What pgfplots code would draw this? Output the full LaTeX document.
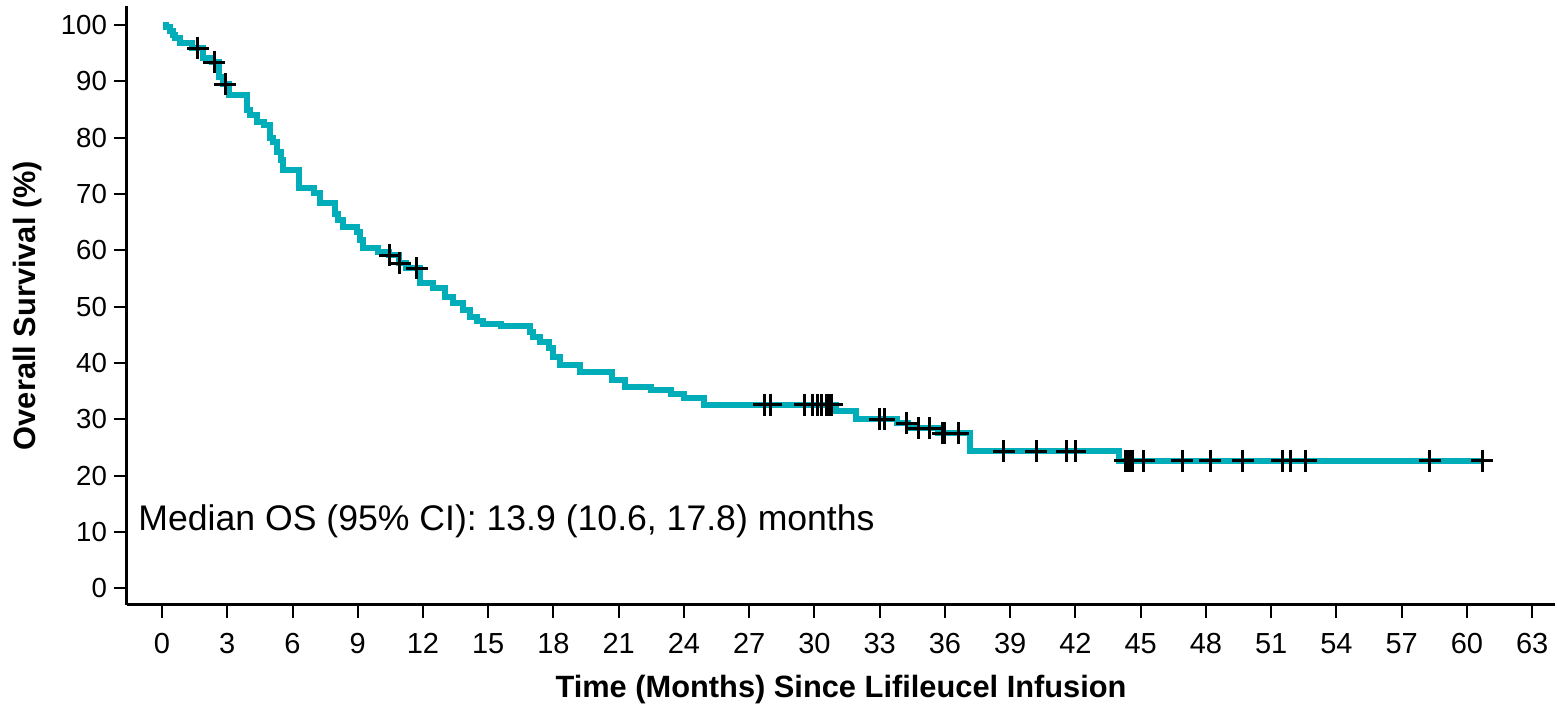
\documentclass[border=0pt]{standalone}
\usepackage{fontspec}
\setmainfont{Liberation Sans}
\usepackage{pgfplots}
\pgfplotsset{compat=1.18}
\definecolor{kmteal}{RGB}{0,173,185}

\begin{document}
\begin{tikzpicture}
\useasboundingbox (-63.5pt,-53pt) rectangle (715pt,302.5pt);
\begin{axis}[
  scale only axis,
  width=714pt, height=299.5pt,
  xmin=-1.61, xmax=64.05,
  ymin=-3, ymax=103.4,
  axis lines*=left,
  axis line style={-, line width=1.5pt, black},
  xtick={0,3,...,63},
  ytick={0,10,...,100},
  tick align=outside,
  tick pos=left,
  major tick length=6.5pt,
  tick style={line width=1pt, black},
  /pgf/number format/assume math mode=true,
  xticklabel style={font=\fontsize{14.5}{16}\selectfont, yshift=-4pt},
  yticklabel style={font=\fontsize{13.8}{16}\selectfont},
  xlabel={Time (Months) Since Lifileucel Infusion},
  ylabel={Overall Survival (\%)},
  xlabel style={font=\bfseries\fontsize{15.4}{18}\selectfont, at={(rel axis cs:0.5,0)}, anchor=center, yshift=-42.5pt},
  ylabel style={font=\bfseries\fontsize{15.4}{18}\selectfont, at={(rel axis cs:0,0.5)}, anchor=center, yshift=49.5pt},
]
% Kaplan-Meier step curve (time in months, survival %)
\addplot[const plot, kmteal, line width=3pt, mark=none] coordinates {
(0.05,100) (0.2,99.6) (0.37,99.0) (0.5,98.2) (0.6,97.7) (0.83,96.8)
(1.4,95.9) (1.9,94.1) (2.3,93.4) (2.6,90.8) (2.8,89.5) (3.1,87.6)
(3.9,85.0) (4.05,84.0) (4.35,82.8) (4.7,82.2) (4.97,80.0) (5.1,79.2)
(5.3,77.4) (5.45,76.0) (5.56,74.2) (6.3,71.0) (7.0,70.2) (7.26,68.4)
(7.95,66.5) (8.1,65.4) (8.3,64.1) (8.97,63.2) (9.1,61.8) (9.24,60.4)
(9.93,59.7) (10.45,59.1) (10.9,57.7) (11.2,56.8) (11.86,54.2) (12.46,53.3)
(13.0,51.7) (13.4,50.6) (13.84,49.4) (14.16,48.1) (14.5,47.5) (14.76,47.0)
(15.6,46.6) (16.9,45.5) (17.05,44.6) (17.4,43.7) (17.8,42.6) (18.0,41.0)
(18.3,39.6) (19.2,38.4) (20.7,36.9) (21.3,35.7) (22.5,35.2) (23.4,34.5)
(24.0,33.7) (24.9,32.6) (31.0,31.4) (31.9,30.0) (33.8,29.3) (34.3,28.4)
(35.7,27.5) (37.15,24.3) (44.0,22.6) (60.75,22.6)
};
% censored observations
\addplot[only marks, mark=+, mark size=5.5pt, black, mark options={line width=1.5pt}] coordinates {
(1.65,95.9) (2.4,93.4) (2.9,89.5) (10.48,59.1) (10.94,57.7) (11.72,56.8)
(27.7,32.6) (28.0,32.6) (29.56,32.6) (29.93,32.6) (30.16,32.6) (30.34,32.6)
(30.57,32.6) (30.67,32.6) (30.8,32.6) (33.0,30.0) (33.2,30.0) (34.25,29.3)
(34.8,28.4) (35.3,28.4) (35.9,27.5) (36.0,27.5) (36.6,27.5) (38.7,24.3)
(40.2,24.3) (41.6,24.3) (42.0,24.3) (44.3,22.6) (44.4,22.6) (44.5,22.6)
(44.6,22.6) (45.15,22.6) (46.9,22.6) (48.2,22.6) (49.7,22.6) (51.5,22.6)
(51.9,22.6) (52.6,22.6) (58.3,22.6) (60.7,22.6)
};
\node[anchor=west, inner sep=0pt, font=\fontsize{17.8}{21}\selectfont] at (axis cs:-1.1,11.9) {Median OS (95\% CI): 13.9 (10.6, 17.8) months};
\end{axis}
\end{tikzpicture}
\end{document}
